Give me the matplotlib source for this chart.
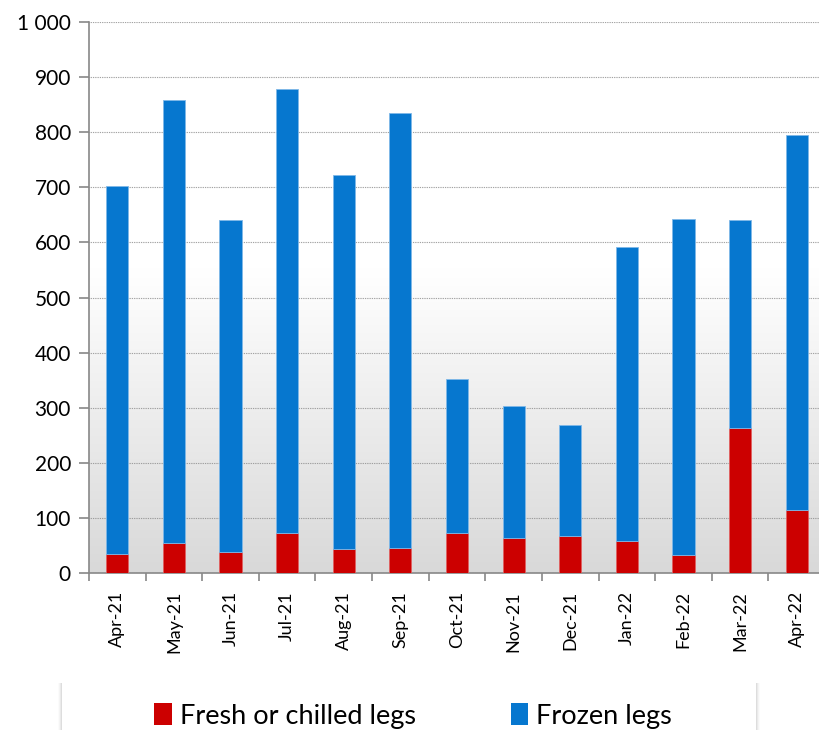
import numpy as np
import matplotlib.pyplot as plt
from matplotlib.patches import Patch, Rectangle

months = ['Apr-21', 'May-21', 'Jun-21', 'Jul-21', 'Aug-21', 'Sep-21', 'Oct-21',
          'Nov-21', 'Dec-21', 'Jan-22', 'Feb-22', 'Mar-22', 'Apr-22']
fresh = [35, 55, 38, 72, 44, 46, 72, 64, 67, 58, 32, 264, 114]
total = [702, 858, 641, 878, 722, 835, 352, 303, 269, 592, 642, 641, 795]
frozen = [t - f for t, f in zip(total, fresh)]

red = '#CC0000'
blue = '#0677CF'

plt.rcParams['font.family'] = ['Lato', 'DejaVu Sans']

fig = plt.figure(figsize=(8.19, 7.3), dpi=100)
ax = fig.add_axes([89/819, 1-573/730, 736/819, 551/730])

# background gradient: white top, light grey bottom
grad = np.linspace(0, 1, 256).reshape(-1, 1)
vals = np.where(grad < 0.45, 0.0, (grad - 0.45) / 0.55)
bg = 1.0 - 0.15 * vals
img = np.dstack([bg, bg, bg])
ax.imshow(img, extent=[0, 1, 0, 1], origin='upper', transform=ax.transAxes,
          aspect='auto', zorder=0)

x = np.arange(len(months))
ax.bar(x, fresh, width=0.39, color=red, edgecolor='#e06060', linewidth=0.6, zorder=3)
ax.bar(x, frozen, bottom=fresh, width=0.39, color=blue, edgecolor='#7fb8e8', linewidth=0.6, zorder=3)

ax.set_xlim(-0.5, len(months) - 0.5)
ax.set_ylim(0, 1000)
ax.set_yticks(range(0, 1001, 100))
ax.set_yticklabels(['0', '100', '200', '300', '400', '500', '600', '700', '800', '900', '1 000'], fontsize=15)
ax.yaxis.grid(True, linestyle=(0, (0.7, 0.9)), color='#8a8a8a', linewidth=0.8, zorder=1)
ax.set_axisbelow(True)

ax.set_xticks(x)
ax.set_xticklabels(months, rotation=90, fontsize=13)
ax.set_xticks(np.arange(-0.5, len(months), 1), minor=True)
ax.tick_params(axis='x', which='major', length=0, pad=13)
ax.tick_params(axis='x', which='minor', length=6, color='#888888', width=1.2)
ax.tick_params(axis='y', length=7, color='#888888', width=1.2, pad=6)

for s in ['top', 'right']:
    ax.spines[s].set_visible(False)
for s in ['left', 'bottom']:
    ax.spines[s].set_color('#888888')
    ax.spines[s].set_linewidth(1.2)

# legend box with soft side shadows
fx0, fx1, fy0, fy1 = 62/819, 756/819, 0, 1 - 683/730
for i in range(4):
    off = (i + 1) / 819
    a = 0.05 - i * 0.011
    fig.patches.append(Rectangle((fx0 - off, fy0), fx1 - fx0 + 2 * off, fy1,
                                 transform=fig.transFigure, facecolor='black',
                                 alpha=a, edgecolor='none', zorder=0))
fig.patches.append(Rectangle((fx0, fy0), fx1 - fx0, fy1, transform=fig.transFigure,
                             facecolor='white', edgecolor='none', zorder=1))

handles = [Patch(facecolor=red, label='Fresh or chilled legs'),
           Patch(facecolor=blue, label='Frozen legs')]
fig.legend(handles=handles, loc='center', bbox_to_anchor=(413/819, 1 - 716/730),
           ncol=2, frameon=False, fontsize=19.5, handlelength=0.65, handleheight=0.85,
           handletextpad=0.3, columnspacing=3.5)

fig.savefig('out.png', dpi=100)
